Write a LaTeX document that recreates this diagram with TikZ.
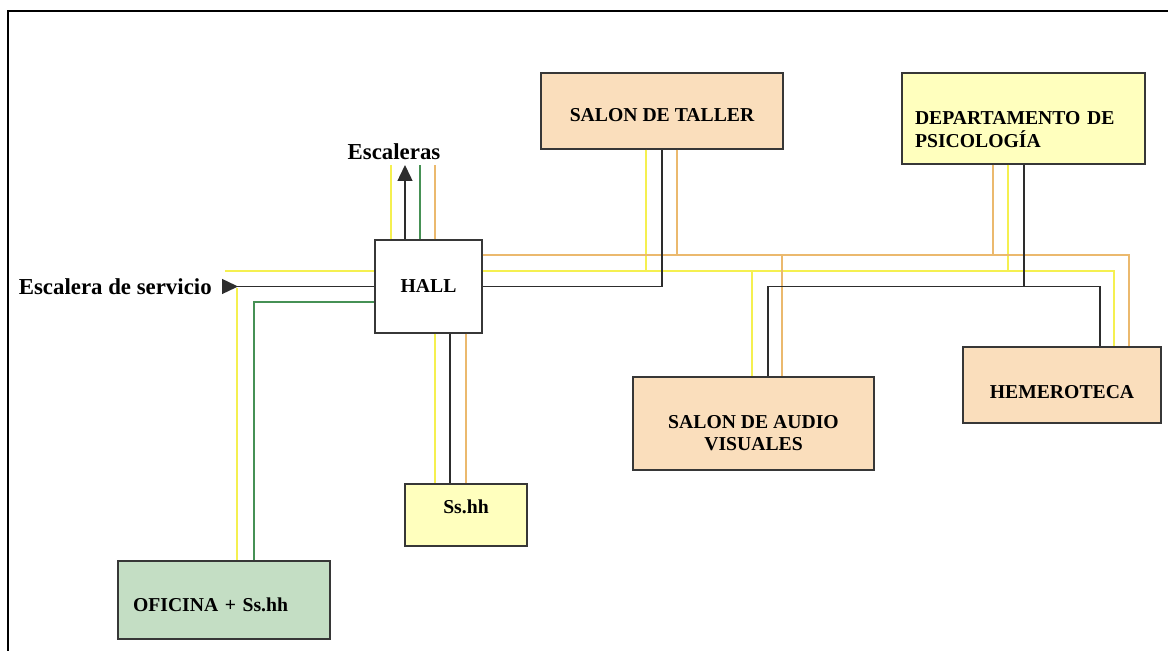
\documentclass[tikz,border=0pt]{standalone}
\usepackage{fontspec}
\setmainfont{Liberation Serif}
\usetikzlibrary{arrows.meta, positioning, calc}
\definecolor{boxpeach}{RGB}{250,222,188}
\definecolor{boxyellow}{RGB}{255,255,190}
\definecolor{boxgreen}{RGB}{196,222,196}
\definecolor{boxedge}{RGB}{55,55,55}
\definecolor{wireblack}{RGB}{45,45,45}
\definecolor{wireyellow}{RGB}{245,240,80}
\definecolor{wireorange}{RGB}{235,185,110}
\definecolor{wiregreen}{RGB}{70,145,85}
\tikzset{
  room/.style={rectangle, draw=boxedge, line width=0.75pt, align=center,
    font=\fontsize{11.2}{13}\selectfont\bfseries, inner sep=0pt},
  peachroom/.style={room, fill=boxpeach},
  yellowroom/.style={room, fill=boxyellow},
  greenroom/.style={room, fill=boxgreen},
  lbl/.style={font=\fontsize{13}{15}\selectfont\bfseries, inner sep=0pt},
  bline/.style={wireblack, line width=0.8pt},
  yline/.style={wireyellow, line width=0.9pt},
  oline/.style={wireorange, line width=0.8pt},
  gline/.style={wiregreen, line width=0.8pt},
  head/.tip={Triangle[length=0.32cm, width=0.3cm]},
  headr/.tip={Triangle[length=0.32cm, width=0.3cm, reversed]}
}

\begin{document}
\begin{tikzpicture}[x=0.02cm, y=-0.02cm]
  \useasboundingbox (0,0) rectangle (1168,651);
  % Frame
  \draw[line width=1.1pt] (8,651) -- (8,11) -- (1168,11);
  % Rooms
  \node[room, fill=white, minimum width=2.14cm, minimum height=1.86cm] (hall) at (428.5,286.5) {HALL};
  \node[peachroom, minimum width=4.84cm, minimum height=1.52cm, text height=0.42cm] (taller) at (662,111) {SALON DE TALLER};
  \node[yellowroom, minimum width=4.86cm, minimum height=1.82cm, text width=4.34cm, inner xsep=0.26cm,
    align=left, text height=0.72cm] (dept) at (1023.5,118.5) {DEPARTAMENTO DE\\PSICOLOGÍA};
  \node[peachroom, minimum width=4.82cm, minimum height=1.86cm, text height=1.1cm] (audio) at (753.5,423.5) {SALON DE AUDIO\\VISUALES};
  \node[peachroom, minimum width=3.96cm, minimum height=1.52cm, text height=0.54cm] (hemero) at (1062,385) {HEMEROTECA};
  \node[yellowroom, minimum width=2.44cm, minimum height=1.24cm, text height=0.26cm, text depth=0.32cm] (ss) at (466,515) {Ss.hh};
  \node[greenroom, minimum width=4.24cm, minimum height=1.56cm, text width=3.64cm, inner xsep=0.3cm,
    align=left, text height=0.46cm] (oficina) at (224,600) {OFICINA + Ss.hh};
  % Labels
  \node[lbl, anchor=east, inner xsep=0.2cm] (esc) at (222,286.5) {Escalera de servicio};
  \node[lbl, anchor=south, inner ysep=0.1cm] (escal) at (394,165) {Escaleras};
  % Columns and rows
  \coordinate (uY) at (391,0); \coordinate (uB) at (405,0); \coordinate (uG) at (420,0); \coordinate (uO) at (435,0);
  \coordinate (sY) at (435,0); \coordinate (sB) at (450,0); \coordinate (sO) at (466,0);
  \coordinate (cTy) at (646,0); \coordinate (cTb) at (662,0); \coordinate (cTo) at (677,0);
  \coordinate (cAy) at (752,0); \coordinate (cAb) at (768,0); \coordinate (cAo) at (782,0);
  \coordinate (cDo) at (993,0); \coordinate (cDy) at (1008,0); \coordinate (cDb) at (1024,0);
  \coordinate (cHb) at (1100,0); \coordinate (cHy) at (1114,0); \coordinate (cHo) at (1129,0);
  \coordinate (rO) at (0,255); \coordinate (rY) at (0,271); \coordinate (rB) at (0,286.5);
  \coordinate (ylft) at (225,271); \coordinate (yoff) at (237,288); \coordinate (gcorner) at (254,302);
  % Yellow lines
  \draw[yline] (ylft) -- (hall.west |- ylft);
  \draw[yline] (yoff) -- (yoff |- oficina.north);
  \draw[yline] (hall.north -| uY) -- (uY |- escal.south);
  \draw[yline] (hall.south -| sY) -- (sY |- ss.north);
  \draw[yline] (hall.east |- rY) -- (cHy |- rY) -- (cHy |- hemero.north);
  \draw[yline] (cTy |- taller.south) -- (cTy |- rY);
  \draw[yline] (cAy |- rY) -- (cAy |- audio.north);
  \draw[yline] (cDy |- dept.south) -- (cDy |- rY);
  % Orange lines
  \draw[oline] (hall.north -| uO) -- (uO |- escal.south);
  \draw[oline] (hall.south -| sO) -- (sO |- ss.north);
  \draw[oline] (hall.east |- rO) -- (cHo |- rO) -- (cHo |- hemero.north);
  \draw[oline] (cTo |- taller.south) -- (cTo |- rO);
  \draw[oline] (cAo |- rO) -- (cAo |- audio.north);
  \draw[oline] (cDo |- dept.south) -- (cDo |- rO);
  % Green lines
  \draw[gline] (hall.north -| uG) -- (uG |- escal.south);
  \draw[gline] (hall.west |- gcorner) -- (gcorner) -- (gcorner |- oficina.north);
  % Black lines
  \draw[bline, {headr}-] (esc.east) -- (hall.west |- esc.east);
  \draw[bline, -{head}] (hall.north -| uB) -- (uB |- escal.south);
  \draw[bline] (hall.south -| sB) -- (sB |- ss.north);
  \draw[bline] (hall.east) -- (cTb |- rB) -- (cTb |- taller.south);
  \draw[bline] (cAb |- audio.north) -- (cAb |- rB) -- (cHb |- rB) -- (cHb |- hemero.north);
  \draw[bline] (cDb |- dept.south) -- (cDb |- rB);
\end{tikzpicture}
\end{document}
